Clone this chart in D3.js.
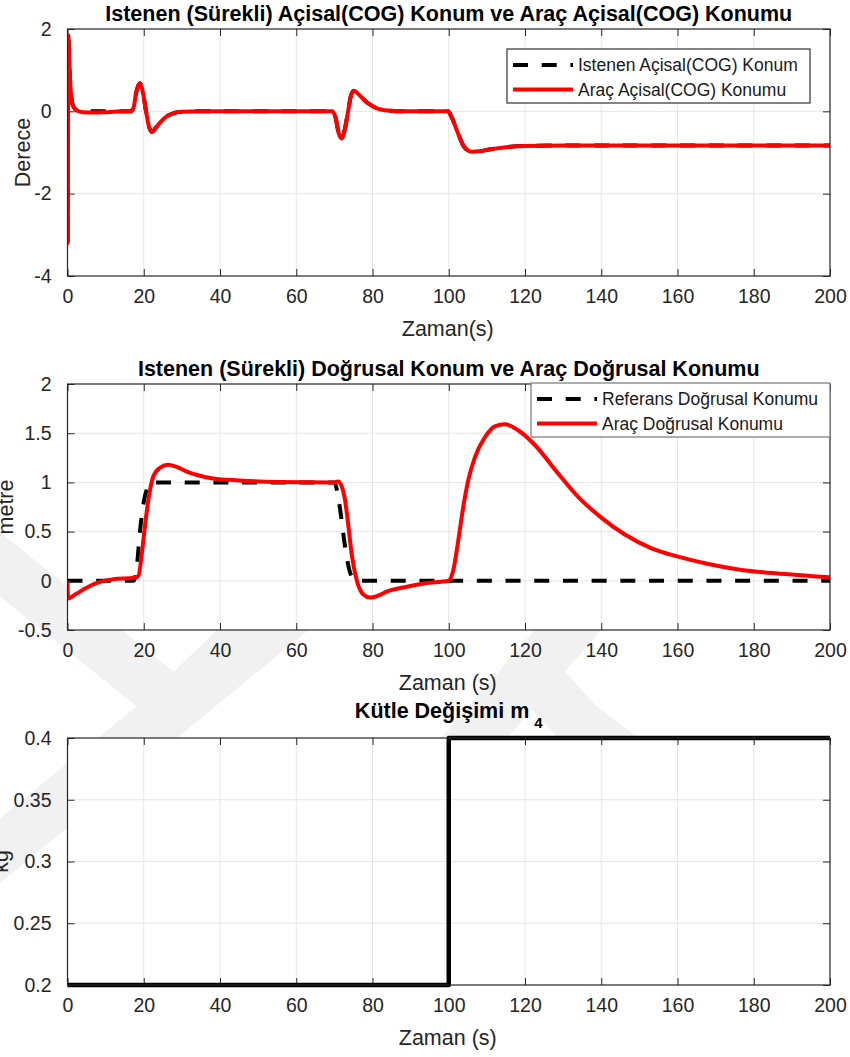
<!DOCTYPE html>
<html>
<head>
<meta charset="utf-8">
<script src="https://cdn.jsdelivr.net/npm/d3@7"></script>
<style>
  body { margin: 0; background: #fff; }
  svg { display: block; font-family: 'Liberation Sans', Arial, sans-serif; }
</style>
</head>
<body>
<div class="chart"></div>
<script>
/* Chart data
--------------------------------------------------- */
const timeTicks = [0, 20, 40, 60, 80, 100, 120, 140, 160, 180, 200];
const angleTicks = [-4, -2, 0, 2];
const positionTicks = [-0.5, 0, 0.5, 1, 1.5, 2];
const massTicks = [0.2, 0.25, 0.3, 0.35, 0.4];

// [time (s), angle (deg)]
const angleRef = [
  [0, 0], [0.08, -3.2], [0.2, 1.85], [0.5, 1.1], [0.8, 0.55], [1.2, 0.22], [1.8, 0.08], [2.5, 0.02],
  [4, 0], [16.5, 0], [17.3, 0.08], [18, 0.45], [19, 0.68], [19.8, 0.45], [20.6, 0], [21.4, -0.38],
  [22.2, -0.5], [23, -0.42], [24.5, -0.25], [26, -0.12], [28, -0.04], [30, -0.01], [35, 0], [69.5, 0],
  [70.3, -0.15], [71.2, -0.55], [71.9, -0.66], [72.7, -0.45], [73.6, 0], [74.4, 0.4], [75.2, 0.5],
  [76.5, 0.4], [78.5, 0.22], [81, 0.08], [84, 0.02], [88, 0], [99.8, 0], [100.8, -0.15], [102.5, -0.55],
  [104, -0.86], [106, -0.98], [108, -0.97], [111, -0.92], [115, -0.87], [120, -0.84], [130, -0.83], [200, -0.83],
];
const angleVehicle = [
  [0, 0], [0.08, -3.2], [0.2, 1.85], [0.5, 1.1], [0.8, 0.55], [1.2, 0.22], [1.8, 0.08], [2.5, 0.02],
  [4, -0.02], [7, -0.03], [10, -0.02], [13, -0.005], [16.5, 0], [17.3, 0.08], [18, 0.45], [19, 0.68],
  [19.8, 0.45], [20.6, 0], [21.4, -0.38], [22.2, -0.5], [23, -0.42], [24.5, -0.25], [26, -0.12], [28, -0.04],
  [30, -0.01], [35, 0], [69.5, 0], [70.3, -0.15], [71.2, -0.55], [71.9, -0.66], [72.7, -0.45], [73.6, 0],
  [74.4, 0.4], [75.2, 0.5], [76.5, 0.4], [78.5, 0.22], [81, 0.08], [84, 0.02], [88, 0], [99.8, 0],
  [100.8, -0.15], [102.5, -0.55], [104, -0.86], [106, -0.98], [108, -0.97], [111, -0.92], [115, -0.87],
  [120, -0.84], [130, -0.83], [200, -0.83],
];

// [time (s), position (m)]
const positionRef = [
  [0, 0], [17.4, 0], [18.2, 0.15], [19, 0.5], [20, 0.8], [21, 0.95], [22, 1], [70, 1], [70.8, 0.9],
  [71.6, 0.7], [72.8, 0.35], [74, 0.1], [75.5, 0], [200, 0],
];
const positionVehicle = [
  [0, 0], [0.15, -0.18], [2, -0.14], [5, -0.07], [8.5, -0.01], [12, 0.015], [17.5, 0.03], [18.6, 0.05],
  [19.5, 0.28], [20.3, 0.55], [21.2, 0.82], [22.5, 1.06], [24.3, 1.15], [26.4, 1.18], [28.5, 1.16],
  [31.3, 1.11], [34.5, 1.07], [38.2, 1.04], [45, 1.02], [55, 1.005], [70, 1.0], [71, 1.01], [71.8, 0.97],
  [72.8, 0.82], [73.7, 0.55], [74.5, 0.28], [75.9, 0.0], [77.6, -0.14], [79.3, -0.17], [81.5, -0.15],
  [83.7, -0.11], [89, -0.06], [93.8, -0.025], [99.9, 0], [101.2, 0.11], [102.5, 0.41], [103.8, 0.75],
  [105.1, 1.02], [106.9, 1.26], [109.5, 1.46], [112.1, 1.57], [114.8, 1.59], [118.2, 1.53], [122.6, 1.38],
  [128.7, 1.09], [134, 0.85], [140.1, 0.64], [146.2, 0.47], [153.2, 0.33], [160.2, 0.245], [168.1, 0.17],
  [176.8, 0.11], [185.6, 0.076], [200, 0.035],
];

// [time (s), mass (kg)]
const massStep = [[0, 0.2], [100, 0.2], [100, 0.4], [200, 0.4]];

/* Shared settings
--------------------------------------------------- */
const width = 850;
const height = 1057;
const left = 67.5;
const right = 830;
const axisColor = '#262626';
const dash = '15,13.7';
const plain = d => String(d).replace('−', '-');

const svg = d3
  .select('.chart')
  .append('svg')
  .attr('width', width)
  .attr('height', height);

/* Faint watermark behind the axes
--------------------------------------------------- */
function drawWatermark() {
  const g = svg.append('g').attr('fill', 'none').attr('stroke', '#f1f1f1').attr('stroke-width', 50);
  const bands = [
    [[-80, 500], [175, 705], [420, 470]],
    [[-60, 900], [330, 580]],
    [[420, 800], [620, 570]],
    [[520, 660], [580, 725], [720, 830]],
  ];
  bands.forEach(b => g.append('path').attr('d', d3.line()(b)));
}

/* One subplot
--------------------------------------------------- */
function drawPanel(opts) {
  const x = d3.scaleLinear().domain([0, 200]).range([left, right]);
  const y = d3.scaleLinear().domain(opts.domain).range([opts.bottom, opts.top]);
  const g = svg.append('g');
  const clipId = 'clip' + opts.top;

  g.append('rect')
    .attr('x', left)
    .attr('y', opts.top)
    .attr('width', right - left)
    .attr('height', opts.bottom - opts.top)
    .attr('fill', '#fff');

  g.append('clipPath')
    .attr('id', clipId)
    .append('rect')
    .attr('x', left)
    .attr('y', opts.top - 3)
    .attr('width', right - left)
    .attr('height', opts.bottom - opts.top + 6);

  // grid
  g.selectAll('.vgrid')
    .data(timeTicks.slice(1, -1))
    .enter()
    .append('line')
    .attr('x1', d => x(d))
    .attr('x2', d => x(d))
    .attr('y1', opts.top)
    .attr('y2', opts.bottom)
    .attr('stroke', '#e6e6e6');
  g.selectAll('.hgrid')
    .data(opts.ticks.slice(1, -1))
    .enter()
    .append('line')
    .attr('x1', left)
    .attr('x2', right)
    .attr('y1', d => y(d))
    .attr('y2', d => y(d))
    .attr('stroke', '#e6e6e6');

  // axes with inward ticks on all four sides
  const tickStyle = sel => {
    sel.select('.domain').remove();
    sel.selectAll('line').attr('stroke', axisColor);
    sel.selectAll('text').attr('fill', axisColor).style('font-size', '19.5px');
  };
  g.append('g')
    .attr('transform', `translate(0,${opts.bottom})`)
    .call(d3.axisBottom(x).tickValues(timeTicks).tickSizeInner(-7).tickPadding(12).tickFormat(plain))
    .call(tickStyle)
    .call(sel => sel.selectAll('text').attr('dy', '0.71em').attr('y', 13))
    .attr('font-family', null);
  g.append('g')
    .attr('transform', `translate(0,${opts.top})`)
    .call(d3.axisTop(x).tickValues(timeTicks).tickSizeInner(-7).tickFormat(''))
    .call(tickStyle);
  g.append('g')
    .attr('transform', `translate(${left},0)`)
    .call(d3.axisLeft(y).tickValues(opts.ticks).tickSizeInner(-7).tickPadding(16).tickFormat(plain))
    .call(tickStyle)
    .attr('font-family', null);
  g.append('g')
    .attr('transform', `translate(${right},0)`)
    .call(d3.axisRight(y).tickValues(opts.ticks).tickSizeInner(-7).tickFormat(''))
    .call(tickStyle);

  // series
  const line = d3
    .line()
    .curve(opts.curve || d3.curveMonotoneX)
    .x(d => x(d[0]))
    .y(d => y(d[1]));
  opts.series.forEach(s => {
    g.append('path')
      .datum(s.data)
      .attr('d', line)
      .attr('fill', 'none')
      .attr('stroke', s.color)
      .attr('stroke-width', s.width || 4)
      .attr('stroke-dasharray', s.dash || null)
      .attr('stroke-linejoin', 'round')
      .attr('clip-path', opts.clip === false ? null : `url(#${clipId})`);
  });

  // box
  g.append('rect')
    .attr('x', left)
    .attr('y', opts.top)
    .attr('width', right - left)
    .attr('height', opts.bottom - opts.top)
    .attr('fill', 'none')
    .attr('stroke', axisColor)
    .attr('stroke-width', 1.2);

  // title and labels
  const title = g
    .append('text')
    .attr('x', (left + right) / 2)
    .attr('y', opts.titleY || opts.top - 8)
    .attr('text-anchor', 'middle')
    .attr('font-weight', 'bold')
    .style('font-size', '21.5px')
    .attr('fill', '#000')
    .text(opts.title);
  if (opts.subscript) {
    title
      .append('tspan')
      .attr('dx', 5)
      .attr('dy', 10)
      .style('font-size', '15px')
      .text(opts.subscript);
  }

  g.append('text')
    .attr('x', (left + right) / 2 - 1)
    .attr('y', opts.bottom + 60)
    .attr('text-anchor', 'middle')
    .style('font-size', '21.5px')
    .attr('fill', axisColor)
    .text(opts.xLabel);

  g.append('text')
    .attr('transform', `translate(${opts.yLabelX},${(opts.top + opts.bottom) / 2}) rotate(-90)`)
    .attr('text-anchor', 'middle')
    .style('font-size', '21.5px')
    .attr('fill', axisColor)
    .text(opts.yLabel);

  if (opts.legend) drawLegend(g, opts.legend);
}

/* Legend box
--------------------------------------------------- */
function drawLegend(g, lg) {
  g.append('rect')
    .attr('x', lg.x)
    .attr('y', lg.y)
    .attr('width', lg.w)
    .attr('height', lg.h)
    .attr('fill', '#fff')
    .attr('stroke', lg.stroke)
    .attr('stroke-width', 1.2);
  lg.items.forEach((item, i) => {
    const cy = lg.y + 16 + i * 24.5;
    g.append('line')
      .attr('x1', lg.x + 6)
      .attr('x2', lg.x + 66)
      .attr('y1', cy)
      .attr('y2', cy)
      .attr('stroke', item.color)
      .attr('stroke-width', 4)
      .attr('stroke-dasharray', item.dash || null);
    g.append('text')
      .attr('x', lg.x + 71)
      .attr('y', cy + 6)
      .style('font-size', '17.5px')
      .attr('fill', '#1a1a1a')
      .text(item.label);
  });
}

/* Draw the three panels
--------------------------------------------------- */
drawWatermark();

drawPanel({
  top: 29,
  bottom: 276,
  domain: [-4, 2],
  ticks: angleTicks,
  title: 'Istenen (Sürekli) Açisal(COG) Konum ve Araç Açisal(COG) Konumu',
  xLabel: 'Zaman(s)',
  yLabel: 'Derece',
  yLabelX: 30,
  series: [
    { data: angleRef, color: '#000', dash: dash },
    { data: angleVehicle, color: '#ff0000' },
  ],
  legend: {
    x: 507, y: 49, w: 303, h: 54, stroke: '#333',
    items: [
      { label: 'Istenen Açisal(COG) Konum', color: '#000', dash: dash },
      { label: 'Araç Açisal(COG) Konumu', color: '#ff0000' },
    ],
  },
});

drawPanel({
  top: 384,
  bottom: 630,
  domain: [-0.5, 2],
  ticks: positionTicks,
  title: 'Istenen (Sürekli) Doğrusal Konum ve Araç Doğrusal Konumu',
  xLabel: 'Zaman (s)',
  yLabel: 'metre',
  yLabelX: 13,
  series: [
    { data: positionRef, color: '#000', dash: dash },
    { data: positionVehicle, color: '#ff0000' },
  ],
  legend: {
    x: 531, y: 383, w: 299, h: 54, stroke: '#777',
    items: [
      { label: 'Referans Doğrusal Konumu', color: '#000', dash: dash },
      { label: 'Araç Doğrusal Konumu', color: '#ff0000' },
    ],
  },
});

drawPanel({
  top: 738,
  bottom: 985,
  titleY: 718,
  domain: [0.2, 0.4],
  ticks: massTicks,
  title: 'Kütle Değişimi m',
  subscript: '4',
  xLabel: 'Zaman (s)',
  yLabel: 'kg',
  yLabelX: 8,
  curve: d3.curveLinear,
  clip: false,
  series: [{ data: massStep, color: '#000', width: 4.5 }],
});
</script>
</body>
</html>
